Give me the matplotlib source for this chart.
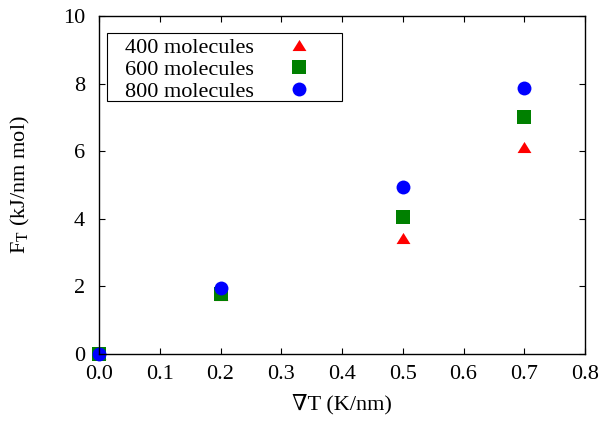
import matplotlib.pyplot as plt
import matplotlib as mpl
from matplotlib.patches import Rectangle
from matplotlib.ticker import FormatStrFormatter, MultipleLocator

mpl.rcParams['font.family'] = ['Liberation Serif', 'DejaVu Serif']
mpl.rcParams['mathtext.fontset'] = 'custom'
mpl.rcParams['mathtext.rm'] = 'Liberation Serif'
mpl.rcParams['font.size'] = 16

# data
grad_t = [0.0, 0.2, 0.5, 0.7]
f_400 = [0.0, 1.75, 3.42, 6.12]
f_600 = [0.0, 1.78, 4.04, 7.02]
f_800 = [0.0, 1.95, 4.95, 7.88]
labels = ['400 molecules', '600 molecules', '800 molecules']

# gnuplot-like triangle (wider than tall)
tri = [(-1, -0.8), (1, -0.8), (0, 0.8), (-1, -0.8)]

fig = plt.figure(figsize=(6.01, 4.21), dpi=100)
ax = fig.add_axes([99/601, 67/421, 486/601, 338/421])

styles = [(f_400, 'red', tri), (f_600, 'green', 's'), (f_800, 'blue', 'o')]
for ys, c, m in styles:
    ax.plot(grad_t, ys, ls='none', marker=m, ms=10, mfc=c, mec=c, mew=0, clip_on=False)

ax.set_xlim(0, 0.8)
ax.set_ylim(0, 10)
ax.xaxis.set_major_locator(MultipleLocator(0.1))
ax.yaxis.set_major_locator(MultipleLocator(2))
ax.xaxis.set_major_formatter(FormatStrFormatter('%.1f'))
ax.tick_params(direction='in', length=4, width=0.8, top=True, right=True)
ax.tick_params(axis='x', pad=8)
ax.tick_params(axis='y', pad=10)
for s in ax.spines.values():
    s.set_linewidth(1.0)

ax.set_xlabel('∇T (K/nm)', labelpad=7)
ax.set_ylabel(r'F$_\mathrm{T}$ (kJ/nm mol)', labelpad=22)

# key box, text then marker like gnuplot
ax.add_patch(Rectangle((0.0165, 0.7485), 0.4835, 0.2012, transform=ax.transAxes,
                       fill=False, ec='black', lw=0.8, clip_on=False))
rows = [0.8905, 0.8254, 0.7604]
for (ys, c, m), lab, yb in zip(styles, labels, rows):
    ax.text(0.0535, yb, lab, transform=ax.transAxes, ha='left', va='baseline')
    ax.plot([0.4115], [yb + 0.0237], transform=ax.transAxes, ls='none', marker=m,
            ms=10, mfc=c, mec=c, mew=0, clip_on=False)

fig.savefig('out.png', dpi=100)
